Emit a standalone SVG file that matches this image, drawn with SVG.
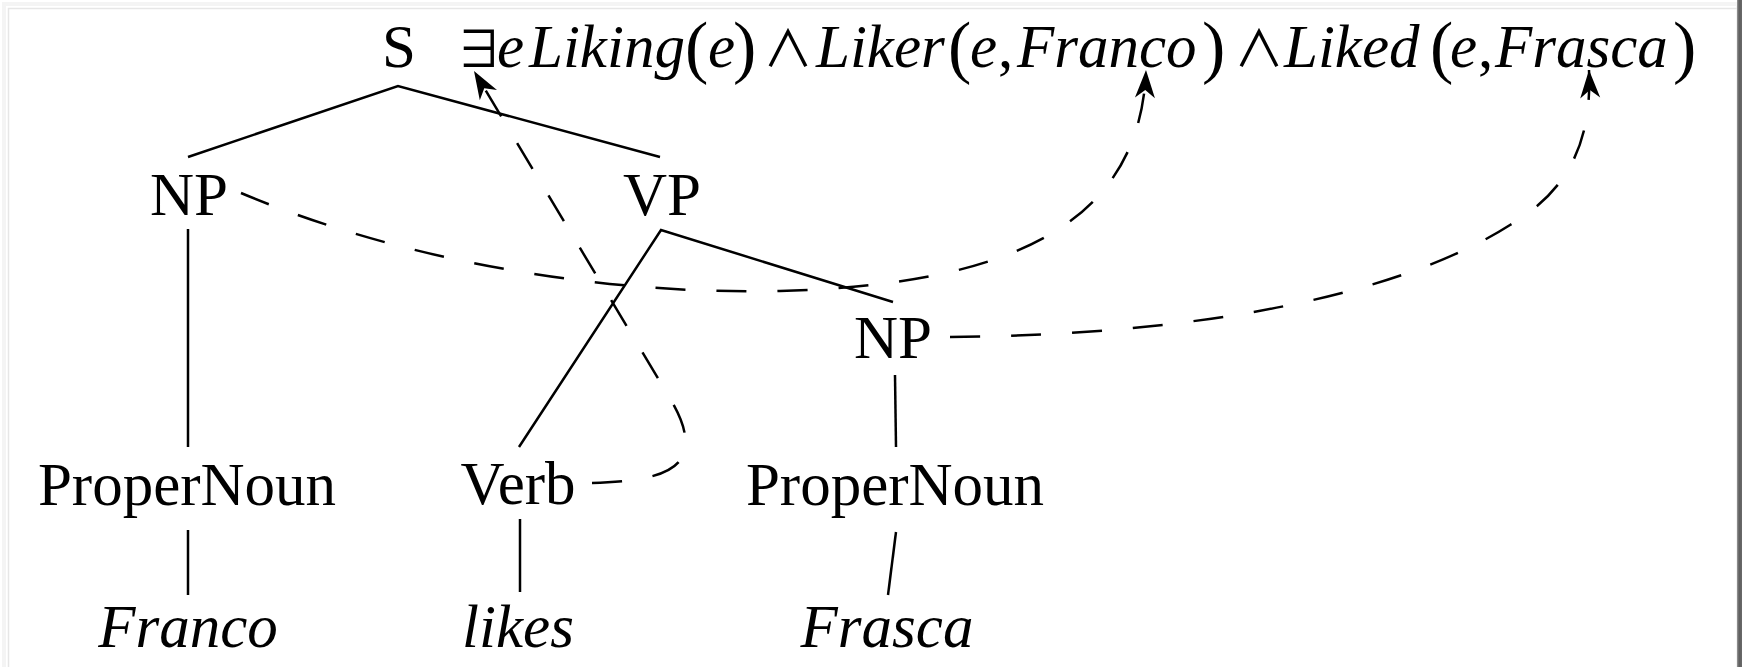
<svg xmlns="http://www.w3.org/2000/svg" width="1742" height="667" viewBox="0 0 1742 667">
  <defs>
    <style>
      .lbl { font-family: "Liberation Serif", "DejaVu Serif", serif; font-size: 61px; fill: #000; text-anchor: middle; }
      .word { font-style: italic; }
      .math { font-family: "Liberation Serif", "DejaVu Serif", serif; font-size: 61px; fill: #000; font-style: italic; }
      .up { font-style: normal; }
      .par { font-style: normal; font-size: 70px; }
      .op { font-style: normal; font-family: "Noto Sans CJK JP", "DejaVu Sans", sans-serif; font-size: 50px; }
      .tight { letter-spacing: -18px; }
      .edge { stroke: #000; stroke-width: 2.5; fill: none; stroke-linecap: butt; }
      .link { stroke: #000; stroke-width: 2.5; fill: none; stroke-dasharray: 30 31; marker-end: url(#head); }
    </style>
    <marker id="head" markerUnits="userSpaceOnUse" viewBox="-30 -12 32 24" refX="0" refY="0" markerWidth="32" markerHeight="24" orient="auto">
      <path d="M0,0 L-28,-10 L-20,0 L-28,10 Z" fill="#000"/>
    </marker>
    <linearGradient id="edgeR" x1="0" x2="1" y1="0" y2="0">
      <stop offset="0" stop-color="#9a9a9a"/>
      <stop offset="0.4" stop-color="#5e5e5e"/>
      <stop offset="1" stop-color="#6a6a6a"/>
    </linearGradient>
  </defs>

  <!-- page background and frame -->
  <rect x="0" y="0" width="1742" height="667" fill="#ffffff"/>
  <rect x="4" y="4" width="1734" height="670" fill="none" stroke="#f4f4f4" stroke-width="4"/>
  <rect x="8.5" y="8.5" width="1730" height="670" fill="none" stroke="#e6e6e6" stroke-width="1.5"/>
  <rect x="1737" y="0" width="5" height="667" fill="url(#edgeR)"/>

  <!-- tree edges -->
  <g id="connectors">
    <path class="edge" d="M188,157 L398,86 L660,157"/>
    <line class="edge" x1="188" y1="229" x2="188" y2="447"/>
    <path class="edge" d="M519,447 L661,230 L893,302"/>
    <line class="edge" x1="895" y1="375" x2="896" y2="447"/>
    <line class="edge" x1="188" y1="530" x2="188" y2="595"/>
    <line class="edge" x1="520" y1="519" x2="520" y2="592"/>
    <line class="edge" x1="896" y1="532" x2="888" y2="595"/>

    <!-- semantic attachment links -->
    <path class="link" d="M592,483 C640,482 675,475 683,455 C690,435 680,415 668,395 L474,71"/>
    <path class="link" d="M241,193 C400,260 600,295 780,291 C1000,285 1140,230 1146,70"/>
    <path class="link" d="M950,337 C1200,335 1400,295 1510,225 C1570,190 1592,140 1589,70"/>
  </g>

  <!-- nodes -->
  <g id="node-S"><text class="lbl" x="399" y="67">S</text></g>
  <g id="node-NP1"><text class="lbl" x="189" y="215">NP</text></g>
  <g id="node-VP"><text class="lbl" x="662" y="215">VP</text></g>
  <g id="node-NP2"><text class="lbl" x="893" y="358">NP</text></g>
  <g id="node-PN1"><text class="lbl" x="187" y="505">ProperNoun</text></g>
  <g id="node-Verb"><text class="lbl" x="518" y="504">Verb</text></g>
  <g id="node-PN2"><text class="lbl" x="895" y="505">ProperNoun</text></g>
  <g id="node-Franco"><text class="lbl word" x="188" y="647">Franco</text></g>
  <g id="node-likes"><text class="lbl word" x="518" y="647">likes</text></g>
  <g id="node-Frasca"><text class="lbl word" x="887" y="647">Frasca</text></g>

  <!-- logical form -->
  <g id="node-formula">
    <text class="math" y="67">
      <tspan class="op tight" x="454" y="67">∃</tspan><tspan x="497" y="67">e</tspan><tspan x="529">Liking</tspan><tspan class="par" x="685" y="70">(</tspan><tspan x="708" y="67">e</tspan><tspan class="par" x="733" y="70">)</tspan><tspan class="op" x="763" y="67">∧</tspan><tspan x="816">Liker</tspan><tspan class="par" x="948" y="70">(</tspan><tspan x="970" y="67">e</tspan><tspan class="up" x="998">,</tspan><tspan x="1017">Franco</tspan><tspan class="par" x="1202" y="70">)</tspan><tspan class="op" x="1234" y="67">∧</tspan><tspan x="1284">Liked</tspan><tspan class="par" x="1430" y="70">(</tspan><tspan x="1450" y="67">e</tspan><tspan class="up" x="1478">,</tspan><tspan x="1495">Frasca</tspan><tspan class="par" x="1673" y="70">)</tspan>
    </text>
  </g>
</svg>
